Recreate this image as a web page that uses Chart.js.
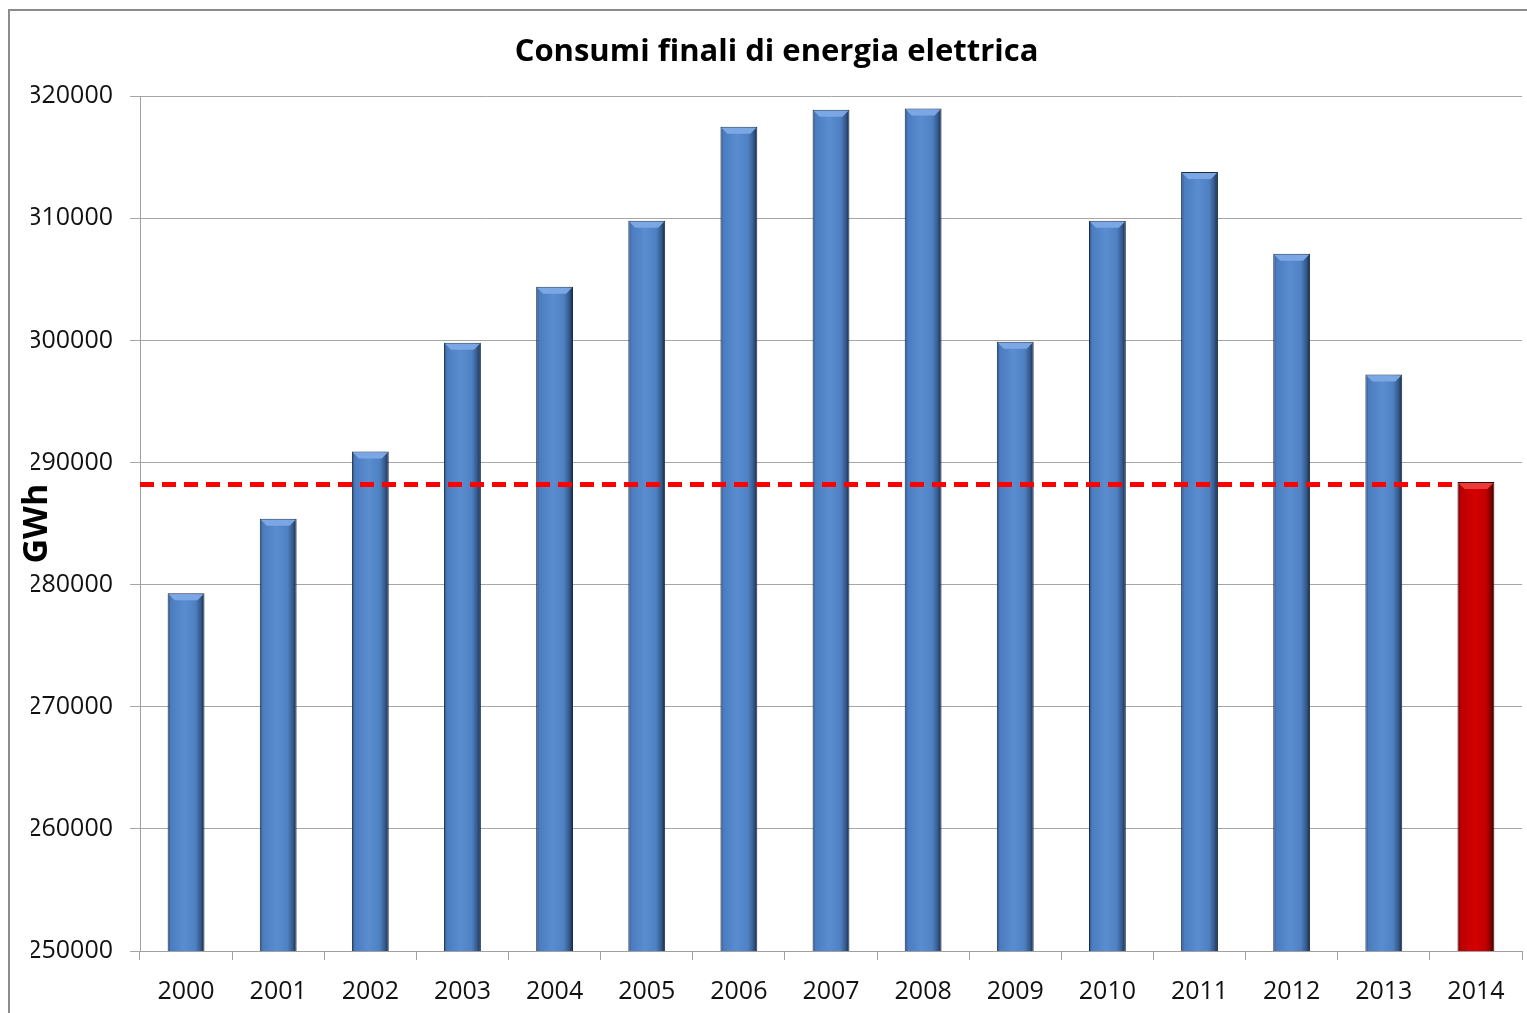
<!DOCTYPE html>
<html>
<head>
<meta charset="utf-8">
<script src="https://cdn.jsdelivr.net/npm/chart.js@4"></script>
<style>
html,body{margin:0;padding:0;background:#fff;}
#wrap{position:absolute;left:0;top:0;width:1527px;height:1013px;}
#frame{position:absolute;left:8px;top:9px;width:1530px;height:1020px;border:2px solid #8c8c8c;box-sizing:border-box;pointer-events:none;}
</style>
</head>
<body>
<div id="wrap"><canvas id="c" width="1527" height="1013"></canvas></div>
<div id="frame"></div>
<script>
const years = ['2000','2001','2002','2003','2004','2005','2006','2007','2008','2009','2010','2011','2012','2013','2014'];
const consumi = [279300,285400,290900,299800,304400,309800,317500,318900,319000,299900,309800,313800,307100,297200,288400];
const highlightYear = '2014';
const refLevel = [288200, 288200];
const refSpan = [-0.5, 13.8];
const yTicks = [250000,260000,270000,280000,290000,300000,310000,320000];

const BAR_PCT = 0.4;

function barGradient(ctx){
  const chart = ctx.chart;
  const x = chart.scales && chart.scales.x;
  const red = years[ctx.dataIndex] === highlightYear;
  const base = red ? '#c00000' : '#4f81bd';
  if (!chart.chartArea || !x) return base;
  const cx = x.getPixelForValue(ctx.dataIndex);
  const w = x.width / years.length * BAR_PCT;
  const g = chart.ctx.createLinearGradient(cx - w/2, 0, cx + w/2, 0);
  if (red) {
    g.addColorStop(0, '#5a0000');
    g.addColorStop(0.08, '#b80000');
    g.addColorStop(0.45, '#d40000');
    g.addColorStop(0.75, '#c40000');
    g.addColorStop(0.9, '#8a0000');
    g.addColorStop(1, '#300000');
  } else {
    g.addColorStop(0, '#2a4a75');
    g.addColorStop(0.08, '#4a7cbf');
    g.addColorStop(0.45, '#5a8dd0');
    g.addColorStop(0.75, '#4f81c2');
    g.addColorStop(0.9, '#34598c');
    g.addColorStop(1, '#162640');
  }
  return g;
}

const bevelPlugin = {
  id: 'bevel',
  afterDatasetDraw(chart, args) {
    if (args.index !== 0) return;
    const meta = chart.getDatasetMeta(0);
    const c = chart.ctx;
    c.save();
    meta.data.forEach((bar, i) => {
      const red = years[i] === highlightYear;
      const l = bar.x - bar.width/2, r = bar.x + bar.width/2, t = bar.y;
      const h = 7;
      c.beginPath();
      c.moveTo(l+1, t+1);
      c.lineTo(r-1, t+1);
      c.lineTo(r - h, t + h);
      c.lineTo(l + h, t + h);
      c.closePath();
      c.fillStyle = red ? 'rgba(240,60,60,0.95)' : 'rgba(125,170,230,0.95)';
      c.fill();
    });
    c.restore();
  }
};

new Chart(document.getElementById('c'), {
  type: 'bar',
  data: {
    labels: years,
    datasets: [{
      type: 'bar',
      data: consumi,
      backgroundColor: barGradient,
      borderColor: (ctx) => years[ctx.dataIndex] === highlightYear ? '#3a0000' : '#1a2c48',
      borderWidth: 1,
      borderSkipped: 'bottom',
      barPercentage: BAR_PCT,
      categoryPercentage: 1.0,
      grouped: false,
      order: 2
    },{
      type: 'line',
      xAxisID: 'x2',
      data: refSpan.map((v, i) => ({x: v, y: refLevel[i]})),
      borderColor: '#ff0000',
      borderWidth: 5,
      borderDash: [14, 8],
      pointRadius: 0,
      fill: false,
      order: 1
    }]
  },
  options: {
    responsive: false,
    animation: false,
    layout: { padding: { left: 31, right: 5, top: 0, bottom: 0 } },
    plugins: {
      legend: { display: false },
      tooltip: { enabled: false },
      title: {
        display: true,
        text: 'Consumi finali di energia elettrica',
        color: '#000',
        font: { family: 'Open Sans', size: 31, weight: 'bold', lineHeight: 1.2 },
        padding: { top: 34, bottom: 25 }
      }
    },
    scales: {
      x: {
        type: 'category',
        position: 'bottom',
        offset: true,
        grid: { display: true, drawOnChartArea: false, offset: true, color: '#a0a0a0', tickLength: 9, tickColor: '#a0a0a0' },
        border: { color: '#a0a0a0', width: 1 },
        ticks: { color: '#111', font: { family: 'Open Sans', size: 25 }, padding: 17, maxRotation: 0 },
        afterFit: (s) => { s.height = 62; }
      },
      x2: {
        type: 'linear',
        position: 'bottom',
        display: true,
        offset: false,
        min: -0.5,
        max: years.length - 0.5,
        grid: { display: false },
        border: { display: false },
        ticks: { display: false },
        afterFit: (s) => { s.height = 0; }
      },
      y: {
        min: yTicks[0],
        max: yTicks[yTicks.length - 1],
        afterBuildTicks: (s) => { s.ticks = yTicks.map(v => ({value: v})); },
        grid: { color: '#a6a6a6', tickLength: 10, tickColor: '#a6a6a6' },
        border: { color: '#a0a0a0', width: 1 },
        ticks: { color: '#111', font: { family: 'Open Sans', size: 25 }, padding: 17, callback: (v) => String(v) },
        title: { display: true, text: 'GWh', color: '#000', font: { family: 'Open Sans', size: 34, weight: 'bold', lineHeight: 1.2 }, padding: { top: -14, bottom: 0 } },
        afterFit: (s) => { s.width = 109; }
      }
    }
  },
  plugins: [bevelPlugin]
});
</script>
</body>
</html>
